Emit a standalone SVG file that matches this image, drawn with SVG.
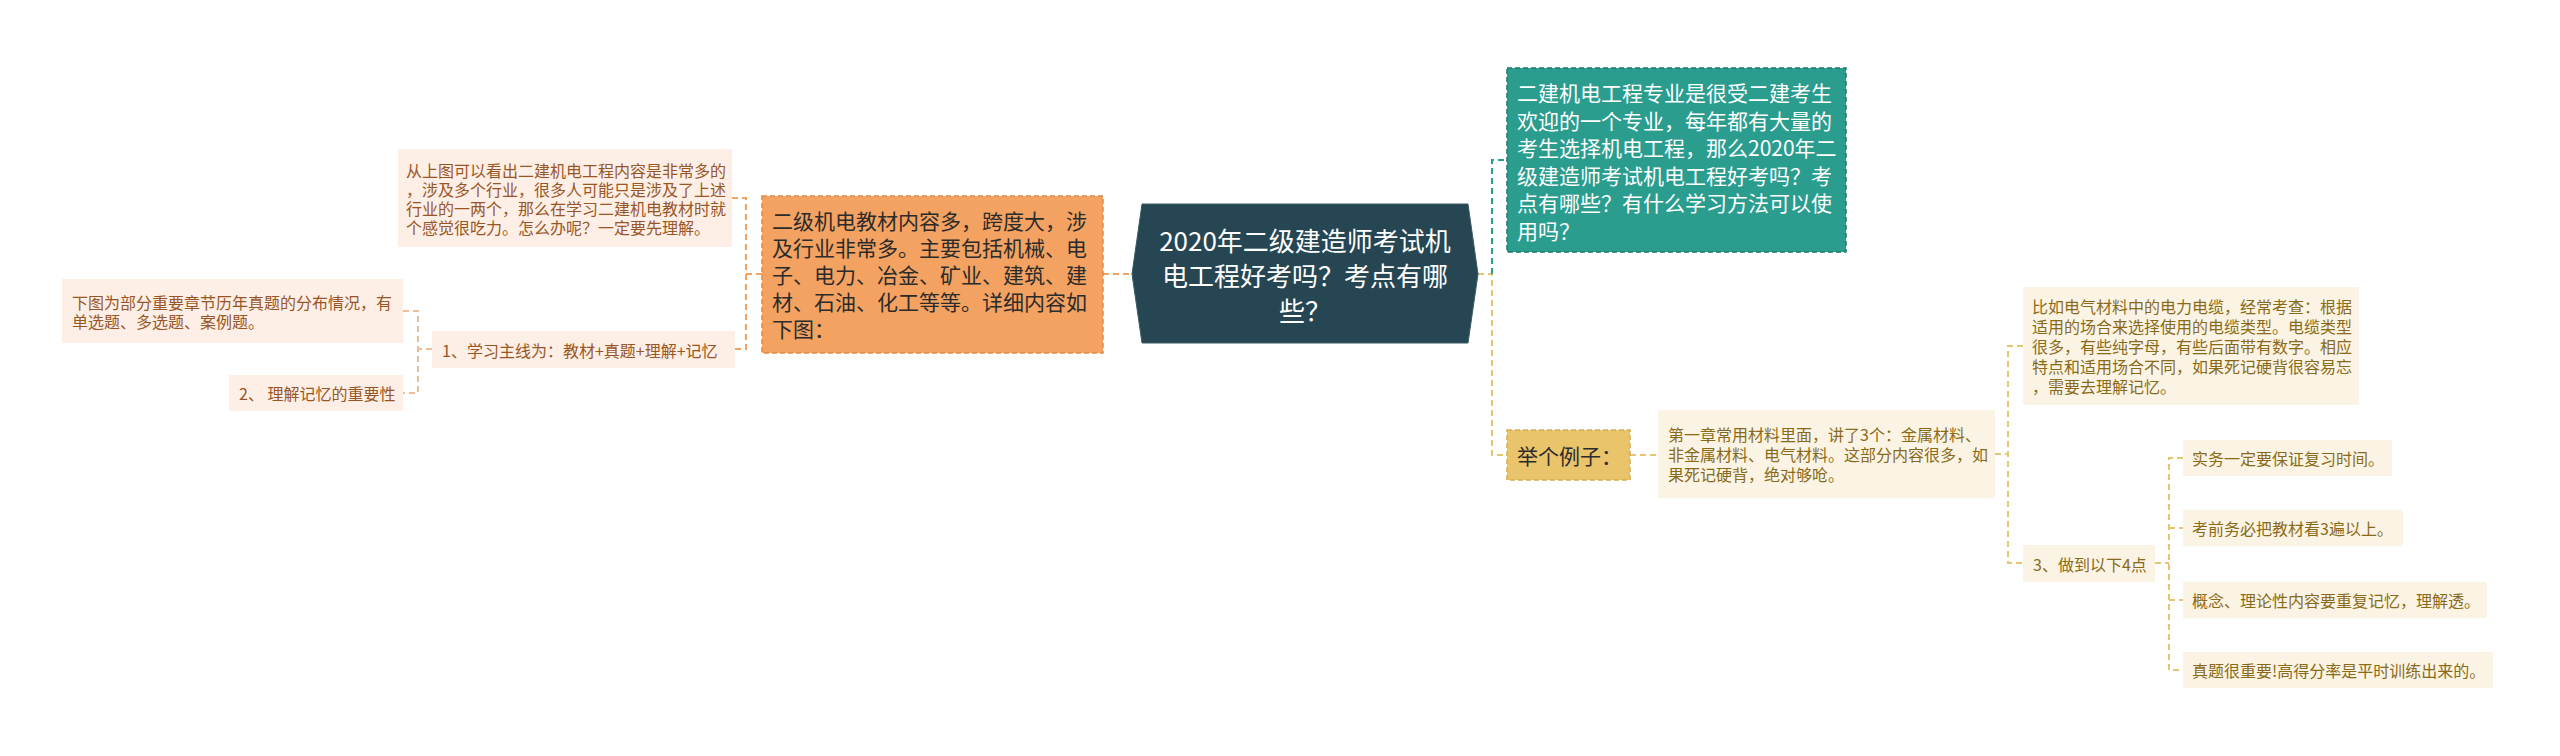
<svg xmlns="http://www.w3.org/2000/svg" width="2560" height="756" viewBox="0 0 2560 756">
<style>
text{font-family:"Noto Sans CJK SC","Noto Sans",sans-serif;dominant-baseline:central}
.root text{fill:#ffffff;font-size:26px;text-anchor:middle}
.l1 text{font-size:21px}
.sm text{font-size:16px}
.pe rect{fill:#fdefe5}
.pe text{fill:#9a5526}
.cr rect{fill:#fbf4e4}
.cr text{fill:#8a6a18}
.c{fill:none;stroke-width:2;stroke-dasharray:6 4}
.co{stroke:#f4a261}
.cp{stroke:#ecbf98}
.ct{stroke:#2a9d8f}
.cg{stroke:#e5c56f}
</style>
<rect width="2560" height="756" fill="#ffffff"/>
<g id="connectors">
<path class="c co" d="M1103 274H1132"/>
<path class="c co" d="M762 274H746M732 198H746V349H735"/>
<path class="c cp" d="M432 349H418M403 311H418V393H403"/>
<path class="c cg" d="M1478 274H1492V455H1507"/>
<path class="c ct" d="M1492 274V160H1507"/>
<path class="c cg" d="M1630 455H1658"/>
<path class="c cg" d="M1995 454H2008M2023 346H2008V563H2023"/>
<path class="c cg" d="M2155 563H2169M2183 458H2169V670H2183M2169 528H2183M2169 600H2183"/>
</g>
<g id="root" class="root">
<polygon points="1142,204 1468,204 1478,274 1468,343 1142,343 1132,274" fill="#264653" stroke="#3b5a66" stroke-width="1"/>
<text x="1305" y="239">2020年二级建造师考试机</text>
<text x="1305" y="274">电工程好考吗？考点有哪</text>
<text x="1305" y="309">些？</text>
</g>
<g id="n-orange" class="l1">
<rect x="762" y="196" width="341" height="157" fill="#f4a261" stroke="#e08a48" stroke-width="1.5" stroke-dasharray="5 3"/>
<text x="772" y="220" fill="#2b2b2b">二级机电教材内容多，跨度大，涉</text>
<text x="772" y="247" fill="#2b2b2b">及行业非常多。主要包括机械、电</text>
<text x="772" y="274" fill="#2b2b2b">子、电力、冶金、矿业、建筑、建</text>
<text x="772" y="301" fill="#2b2b2b">材、石油、化工等等。详细内容如</text>
<text x="772" y="328" fill="#2b2b2b">下图：</text>
</g>
<g id="n-teal" class="l1">
<rect x="1507" y="68" width="339" height="184" fill="#2a9d8f" stroke="#1e7a6f" stroke-width="1.5" stroke-dasharray="5 3"/>
<text x="1517" y="92" fill="#ffffff">二建机电工程专业是很受二建考生</text>
<text x="1517" y="119.5" fill="#ffffff">欢迎的一个专业，每年都有大量的</text>
<text x="1517" y="147" fill="#ffffff">考生选择机电工程，那么2020年二</text>
<text x="1517" y="174.5" fill="#ffffff">级建造师考试机电工程好考吗？考</text>
<text x="1517" y="202" fill="#ffffff">点有哪些？有什么学习方法可以使</text>
<text x="1517" y="229.5" fill="#ffffff">用吗？</text>
</g>
<g id="n-example" class="l1">
<rect x="1507" y="430" width="123" height="50" fill="#e9c46a" stroke="#d4ad50" stroke-width="1.5" stroke-dasharray="5 3"/>
<text x="1517" y="455" fill="#2b2b2b">举个例子：</text>
</g>
<g id="n-a1" class="sm pe">
<rect x="398" y="149" width="334" height="98"/>
<text x="406" y="169.5">从上图可以看出二建机电工程内容是非常多的</text>
<text x="406" y="188.5">，涉及多个行业，很多人可能只是涉及了上述</text>
<text x="406" y="207.5">行业的一两个，那么在学习二建机电教材时就</text>
<text x="406" y="226.5">个感觉很吃力。怎么办呢？一定要先理解。</text>
</g>
<g id="n-a2" class="sm pe">
<rect x="432" y="331" width="303" height="37"/>
<text x="442" y="349.5">1、学习主线为：教材+真题+理解+记忆</text>
</g>
<g id="n-a3" class="sm pe">
<rect x="62" y="279" width="341" height="64"/>
<text x="72" y="301.5">下图为部分重要章节历年真题的分布情况，有</text>
<text x="72" y="320.5">单选题、多选题、案例题。</text>
</g>
<g id="n-a4" class="sm pe">
<rect x="229" y="375" width="174" height="36"/>
<text x="239" y="393">2、 理解记忆的重要性</text>
</g>
<g id="n-b1" class="sm cr">
<rect x="1658" y="410" width="337" height="88"/>
<text x="1668" y="434">第一章常用材料里面，讲了3个：金属材料、</text>
<text x="1668" y="454">非金属材料、电气材料。这部分内容很多，如</text>
<text x="1668" y="474">果死记硬背，绝对够呛。</text>
</g>
<g id="n-b2" class="sm cr">
<rect x="2023" y="287" width="336" height="118"/>
<text x="2032" y="306">比如电气材料中的电力电缆，经常考查：根据</text>
<text x="2032" y="326">适用的场合来选择使用的电缆类型。电缆类型</text>
<text x="2032" y="346">很多，有些纯字母，有些后面带有数字。相应</text>
<text x="2032" y="366">特点和适用场合不同，如果死记硬背很容易忘</text>
<text x="2032" y="386">，需要去理解记忆。</text>
</g>
<g id="n-b3" class="sm cr">
<rect x="2023" y="545" width="132" height="37"/>
<text x="2033" y="563.5">3、做到以下4点</text>
</g>
<g id="n-c1" class="sm cr">
<rect x="2183" y="440" width="209" height="36"/>
<text x="2192" y="458">实务一定要保证复习时间。</text>
</g>
<g id="n-c2" class="sm cr">
<rect x="2183" y="510" width="220" height="36"/>
<text x="2192" y="528">考前务必把教材看3遍以上。</text>
</g>
<g id="n-c3" class="sm cr">
<rect x="2183" y="582" width="304" height="36"/>
<text x="2192" y="600">概念、理论性内容要重复记忆，理解透。</text>
</g>
<g id="n-c4" class="sm cr">
<rect x="2183" y="652" width="310" height="36"/>
<text x="2192" y="670">真题很重要!高得分率是平时训练出来的。</text>
</g>
</svg>
